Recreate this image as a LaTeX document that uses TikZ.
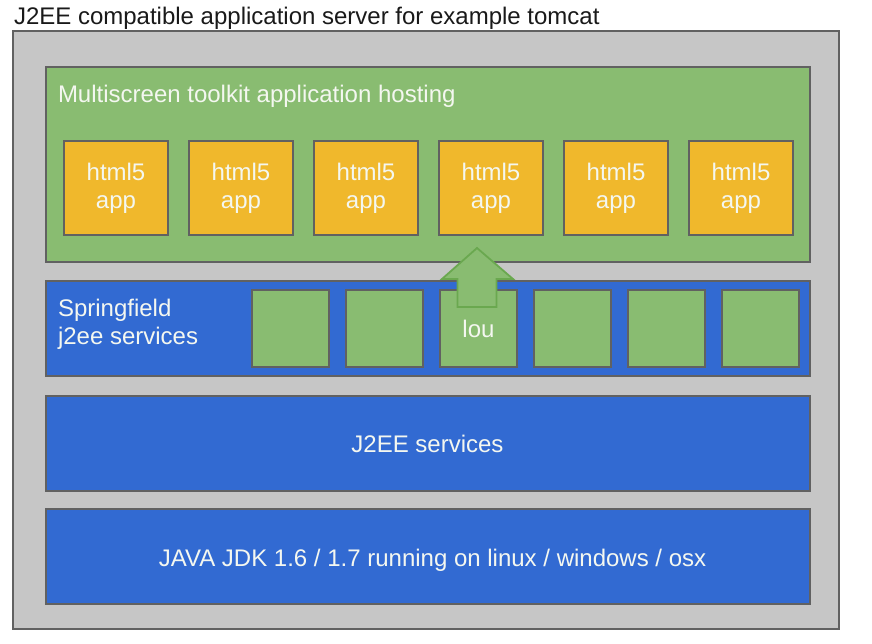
\documentclass[tikz,border=0pt]{standalone}
\usepackage{fontspec}
\setmainfont{Liberation Sans}
\usetikzlibrary{calc}
\definecolor{bggray}{HTML}{C6C6C6}
\definecolor{edgegray}{HTML}{616161}
\definecolor{hostgreen}{HTML}{89BC71}
\definecolor{arrowedge}{HTML}{6AA84F}
\definecolor{apporange}{HTML}{F0B82C}
\definecolor{svcblue}{HTML}{326AD2}
\definecolor{lighttext}{HTML}{F4F7F0}
\begin{document}
\begin{tikzpicture}[x=1pt,y=-1pt,
  every node/.style={inner sep=0pt,outer sep=0pt},
  txt/.style={font=\fontsize{24}{27.6}\selectfont,text=lighttext},
  panel/.style={draw=edgegray,line width=1.8pt},
  appbox/.style={panel,fill=apporange,minimum width=104pt,minimum height=94pt,
    txt,align=center,anchor=north west},
  svcbox/.style={panel,fill=hostgreen,minimum width=77pt,minimum height=77pt,
    txt,anchor=north west},
  layerbox/.style={panel,fill=svcblue}
]
\useasboundingbox (0,0) rectangle (872,644);
% title
\node[anchor=base west,font=\fontsize{24}{28}\selectfont,text=black!90] (title) at (14,25)
  {J2EE compatible application server for example tomcat};
% outer server box
\draw[panel,fill=bggray] (13,31) rectangle (839,629);
% hosting area
\draw[panel,fill=hostgreen] (46,67) rectangle (810,262);
\node[txt,anchor=base west] (hosting) at (58,102.5) {Multiscreen toolkit application hosting};
% html5 apps
\foreach \i/\x in {1/64,2/189,3/314,4/439,5/564,6/689}{
  \node[appbox] (app\i) at (\x,141) {html5\\app};
}
% springfield layer
\draw[layerbox] (46,281) rectangle (810,376);
\node[txt,anchor=base west,align=left] (spring) at (58,316) {Springfield};
\node[txt,anchor=base west] (springb) at (58,344) {j2ee services};
\foreach \i/\x in {1/252,2/346,4/534,5/628,6/722}{
  \node[svcbox] (svc\i) at (\x,290) {};
}
\node[svcbox] (lou) at (440,290) {};
% arrow from lou to app4
\coordinate (tip) at ($(lou.north)+(-1.5,-42)$);
\draw[fill=hostgreen,draw=arrowedge,line width=1.8pt,line join=miter]
  (tip) -- ($(tip)+(36,31)$) -- ($(tip)+(19.5,31)$) -- ($(tip)+(19.5,59)$)
  -- ($(tip)+(-19.5,59)$) -- ($(tip)+(-19.5,31)$) -- ($(tip)+(-35,31)$) -- cycle;
\node[txt] (loulabel) at (lou.center) {lou};
% J2EE services layer
\draw[layerbox] (46,396) rectangle (810,491);
\node[txt,anchor=base] (j2ee) at (427.5,452) {J2EE services};
% JDK layer
\draw[layerbox] (46,509) rectangle (810,604);
\node[txt,anchor=base] (jdk) at (432.5,566.5) {JAVA JDK 1.6 / 1.7 running on linux / windows / osx};
\end{tikzpicture}
\end{document}
